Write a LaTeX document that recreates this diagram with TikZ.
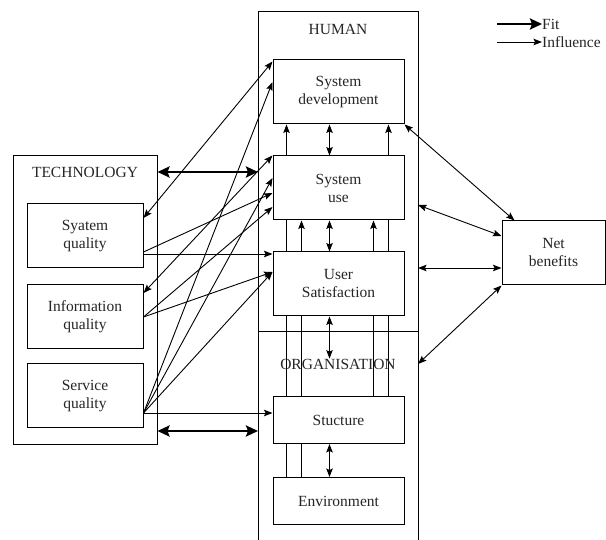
\documentclass[tikz,border=0pt]{standalone}
\usepackage{fontspec}
\setmainfont{Liberation Serif}
\usetikzlibrary{arrows.meta, backgrounds}
\tikzstyle{hBox} = [rectangle, minimum width=131pt, minimum height=64pt, text centered, text width=125pt, inner sep=0pt, draw=black, fill=white, line width=1pt]
\tikzstyle{oBox} = [hBox, minimum height=47pt]
\tikzstyle{tBox} = [rectangle, minimum width=116pt, minimum height=64pt, text centered, text width=110pt, inner sep=0pt, draw=black, fill=white, line width=1pt]
\tikzstyle{nBox} = [rectangle, minimum width=103pt, minimum height=64pt, text centered, text width=98pt, inner sep=0pt, draw=black, fill=white, line width=1pt]
\tikzstyle{gLabel} = [inner sep=0pt]
\tikzstyle{gLine} = [line width=1pt]
\tikzstyle{fFit} = [line width=2.8pt, {Stealth[length=12pt,width=11pt,inset=2pt]}-{Stealth[length=12pt,width=11pt,inset=2pt]}]
\tikzstyle{fFitOne} = [line width=2.8pt, -{Stealth[length=12pt,width=11pt,inset=2pt]}]
\tikzstyle{fInfluence} = [line width=0.9pt, -{Stealth[length=8.5pt,width=6.5pt,inset=1.5pt]}]
\tikzstyle{fBoth} = [line width=0.9pt, {Stealth[length=8.5pt,width=6.5pt,inset=1.5pt]}-{Stealth[length=8.5pt,width=6.5pt,inset=1.5pt]}]

\begin{document}
\begin{tikzpicture}[x=1pt, y=-1pt, node distance=96pt, font=\fontsize{15.5pt}{18pt}\selectfont, text=black!85]
    \useasboundingbox (0,0) rectangle (606,540);

    % human / organisation column
    \coordinate (humanleft) at (258,12);
    \coordinate (humanright) at (418,12);
    \coordinate (humanleftend) at (258,541);
    \coordinate (humanrightend) at (418,541);
    \coordinate (orgleft) at (258,332);
    \coordinate (orgright) at (418,332);
    \draw [gLine] (humanleftend) -- (humanleft) -- (humanright) -- (humanrightend);
    \draw [gLine] (orgleft) -- (orgright);
    \node (human) [gLabel] at (338,29) {HUMAN};
    \node (organisation) [gLabel] at (338,364) {ORGANISATION};

    \node (systemdevelopment) [hBox] at (338.5,92) {System\\development};
    \node (systemuse) [hBox, below of=systemdevelopment] {System\\use};
    \node (usersatisfaction) [hBox, below of=systemuse] {User\\Satisfaction};
    \node (stucture) [oBox, below of=usersatisfaction, yshift=-40pt] {Stucture};
    \node (environment) [oBox, below of=stucture, yshift=15pt] {Environment};

    % technology column
    \node (technology) [rectangle, draw=black, gLine, minimum width=144pt, minimum height=289pt] at (85,300.5) {};
    \node (technologylabel) [gLabel] at (85,172) {TECHNOLOGY};
    \node (syatemquality) [tBox] at (85,236) {Syatem\\quality};
    \node (informationquality) [tBox, below of=syatemquality, yshift=15pt] {Information\\quality};
    \node (servicequality) [tBox, below of=informationquality, yshift=17pt] {Service\\quality};

    \node (netbenefits) [nBox] at (553.5,253) {Net\\benefits};

    % legend
    \coordinate (fitstart) at (497,24);
    \coordinate (influencestart) at (497,42);
    \node (fit) [gLabel, anchor=west] at (542,24) {Fit};
    \node (influence) [gLabel, anchor=west] at (542,42) {Influence};
    \draw [fFitOne] (fitstart) -- (fit.west);
    \draw [fInfluence] (influencestart) -- (influence.west);

    % links inside the human / organisation column
    \begin{scope}[on background layer]
        \draw [fInfluence] ([xshift=14pt]environment.north west) -- ([xshift=14pt]systemdevelopment.south west);
        \draw [fInfluence] ([xshift=29pt]environment.north west) -- ([xshift=29pt]systemuse.south west);
        \draw [fInfluence] ([xshift=101pt]stucture.north west) -- ([xshift=101pt]systemuse.south west);
        \draw [fInfluence] ([xshift=116pt]stucture.north west) -- ([xshift=116pt]systemdevelopment.south west);
    \end{scope}
    \draw [fBoth] ([xshift=57pt]systemdevelopment.south west) -- ([xshift=57pt]systemuse.north west);
    \draw [fBoth] ([xshift=57pt]systemuse.south west) -- ([xshift=57pt]usersatisfaction.north west);
    \draw [fBoth] ([xshift=57pt]usersatisfaction.south west) -- ([xshift=57pt]usersatisfaction.south west |- organisation.north);
    \draw [fBoth] ([xshift=57pt]stucture.south west) -- ([xshift=57pt]environment.north west);

    % fit
    \draw [fFit] (technologylabel -| technology.east) -- (technologylabel -| humanleft);
    \draw [fFit] ([yshift=-130.5pt]technology.east) -- ([yshift=-130.5pt]technology.east -| humanleft);

    % technology to human
    \draw [fBoth] ([yshift=18pt]syatemquality.east) -- ([yshift=-2pt]systemdevelopment.north west);
    \draw [fInfluence] ([yshift=-17pt]servicequality.east) -- ([yshift=10pt]systemdevelopment.west);
    \draw [fBoth] ([yshift=24pt]informationquality.east) -- (systemuse.north west);
    \draw [fInfluence] ([yshift=-16pt]syatemquality.east) -- ([yshift=-5pt]systemuse.west);
    \draw [fInfluence] ([yshift=-17pt]servicequality.east) -- ([yshift=10pt]systemuse.west);
    \draw [fInfluence] (informationquality.east) -- ([yshift=-19pt]systemuse.west);
    \draw [fInfluence] ([yshift=-18pt]syatemquality.east) -- ([yshift=-18pt]syatemquality.east -| usersatisfaction.west);
    \draw [fInfluence] (informationquality.east) -- ([yshift=12pt]usersatisfaction.west);
    \draw [fInfluence] ([yshift=-17pt]servicequality.east) -- ([yshift=12pt]usersatisfaction.west);
    \draw [fInfluence] ([yshift=-17pt]servicequality.east) -- ([yshift=-17pt]servicequality.east -| stucture.west);

    % net benefits
    \draw [fBoth] (systemdevelopment.south east) -- ([xshift=13pt]netbenefits.north west);
    \draw [fBoth] ([yshift=-17pt]systemuse.east -| humanright) -- ([yshift=17pt]netbenefits.west);
    \draw [fBoth] ([yshift=-15pt]netbenefits.west -| humanright) -- ([yshift=-15pt]netbenefits.west);
    \draw [fBoth] (organisation -| humanright) -- (netbenefits.south west);
\end{tikzpicture}
\end{document}
